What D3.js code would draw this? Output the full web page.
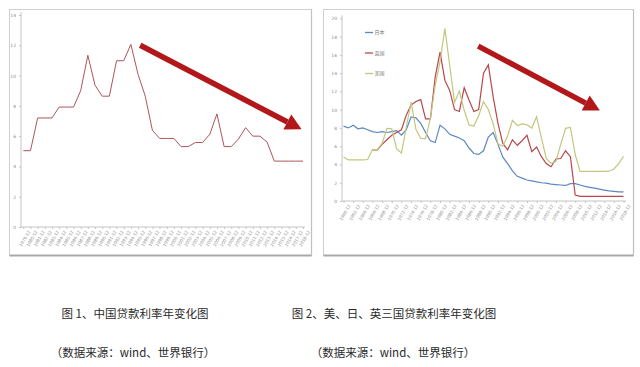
<!DOCTYPE html>
<html><head><meta charset="utf-8">
<script src="https://cdn.jsdelivr.net/npm/d3@7"></script>
<style>
html,body{margin:0;padding:0;background:#fff;}
svg{display:block;}
</style></head>
<body>
<svg id="c" width="640" height="367"></svg>
<script>
// ---------- DATA ----------
const chinaYears = d3.range(1979, 2019).map(y => y + "-12");
const chinaRate = [5.04,5.04,7.2,7.2,7.2,7.92,7.92,7.92,9.0,11.34,9.36,8.64,8.64,10.98,10.98,12.06,10.08,8.64,6.39,5.85,
                   5.85,5.85,5.31,5.31,5.58,5.58,6.12,7.47,5.31,5.31,5.81,6.56,6.0,6.0,5.6,4.35,4.35,4.35,4.35,4.35];
const chinaYTicks = [0,2,4,6,8,10,12,14];

const years2 = d3.range(1960, 2019);
const japanRate = [8.2,8.0,8.3,7.9,8.0,7.8,7.6,7.5,7.6,7.5,7.6,7.7,7.2,7.8,9.2,9.1,8.5,7.5,6.6,6.4,
                   8.3,7.9,7.3,7.1,6.9,6.6,5.8,5.2,5.1,5.5,7.0,7.5,6.2,4.8,4.1,3.3,2.7,2.5,2.3,2.2,
                   2.1,2.0,1.95,1.85,1.8,1.75,1.7,1.9,1.9,1.75,1.6,1.5,1.4,1.3,1.2,1.1,1.05,1.0,1.0];
const ukRate = [null,null,null,null,null,null,5.6,5.6,6.2,6.7,7.2,7.5,7.8,9.4,10.5,10.9,11.1,9.0,9.0,13.6,
                16.3,13.2,12.1,10.0,9.8,12.4,11.05,9.8,10.0,14.0,14.9,11.4,8.5,6.3,5.6,6.7,6.1,6.6,7.2,5.4,
                5.9,4.85,4.1,3.75,4.6,4.65,5.5,4.85,0.65,0.5,0.5,0.5,0.5,0.5,0.5,0.5,0.5,0.5,0.5];
const usRate = [4.82,4.5,4.5,4.5,4.5,4.54,5.63,5.63,6.31,7.96,7.91,5.72,5.25,8.03,10.81,7.86,6.84,6.83,9.06,12.67,
                15.27,18.87,14.86,10.79,12.04,9.93,8.33,8.21,9.32,10.87,10.01,8.46,6.25,6.0,7.14,8.83,8.27,8.44,8.35,7.99,
                9.23,6.91,4.67,4.12,4.34,6.19,7.96,8.05,5.09,3.25,3.25,3.25,3.25,3.25,3.25,3.26,3.51,4.1,4.9];
const chart2YTicks = [0,2,4,6,8,10,12,14,16,18,20];
const chart2XTicks = years2.filter(y => (y - 1960) % 2 === 0);
const legendNames = ["日本","英国","美国"];

const caption1 = "图 1、中国贷款利率年变化图";
const caption2 = "图 2、美、日、英三国贷款利率年变化图";
const source = "（数据来源：wind、世界银行）";

// arrows in data units: [x-index/year, value]
const arrow1 = {from:[16.3, 12.0], to:[38.8, 6.45]};
const arrow2 = {from:[1987.9, 16.95], to:[2013.1, 9.9]};

// ---------- DRAW ----------
const svg = d3.select("#c");
const FONT = "'Noto Sans CJK SC','Noto Sans',sans-serif";
const axisCol = "#c4c4c4", labCol = "#8a8a8a";

function frame(x, y, w, h){
  svg.append("rect").attr("x",x).attr("y",y).attr("width",w).attr("height",h)
    .attr("fill","#fff").attr("stroke","#cfcfcf").attr("stroke-width",1);
  svg.append("line").attr("x1",x).attr("x2",x+w).attr("y1",y+h).attr("y2",y+h)
    .attr("stroke","#a9a9a9").attr("stroke-width",2);
  svg.append("line").attr("x1",x+w).attr("x2",x+w).attr("y1",y).attr("y2",y+h)
    .attr("stroke","#c0c0c0").attr("stroke-width",1.2);
}
frame(9.5, 9.5, 302, 246);
frame(323.5, 9.5, 310, 246);

function arrow(g, x0, y0, x1, y1){
  const ang = Math.atan2(y1-y0, x1-x0);
  const L = 16, W = 8.5;
  const bx = x1 - L*Math.cos(ang), by = y1 - L*Math.sin(ang);
  g.append("line").attr("x1",x0).attr("y1",y0).attr("x2",bx).attr("y2",by)
    .attr("stroke","#b2171a").attr("stroke-width",5.5);
  const px = -Math.sin(ang), py = Math.cos(ang);
  g.append("polygon").attr("points",[[x1,y1],[bx+px*W,by+py*W],[bx-px*W,by-py*W]].map(p=>p.join(",")).join(" "))
    .attr("fill","#b2171a");
}

// ---- Chart 1 ----
{
  const x = d3.scalePoint().domain(chinaYears).range([23.3, 303]);
  const xi = d3.scaleLinear().domain([0, chinaYears.length-1]).range([23.3, 303]);
  const y = d3.scaleLinear().domain([0,14]).range([227, 15]);
  const g = svg.append("g");
  const ya = g.append("g").attr("transform","translate(21,0)")
    .call(d3.axisLeft(y).tickValues(chinaYTicks).tickSize(2).tickPadding(3));
  const xa = g.append("g").attr("transform","translate(0,227)")
    .call(d3.axisBottom(x).tickSize(2).tickPadding(2).tickSizeOuter(0));
  [ya, xa].forEach(a => {
    a.select(".domain").remove();
    a.selectAll(".tick line").attr("stroke",axisCol);
    a.selectAll("text").attr("fill",labCol).style("font-family","'DejaVu Sans',sans-serif");
  });
  g.append("line").attr("x1",21).attr("x2",21).attr("y1",y(14)-3).attr("y2",227).attr("stroke",axisCol);
  g.append("line").attr("x1",21).attr("x2",305).attr("y1",227).attr("y2",227).attr("stroke",axisCol);
  ya.selectAll("text").style("font-size","4.5px");
  xa.selectAll("text").style("font-size","4.2px").attr("text-anchor","end")
    .attr("transform","translate(2,2) rotate(-60)").attr("dy","0.35em").attr("dx","0");
  g.append("path").datum(chinaRate)
    .attr("d", d3.line().x((d,i)=>x(chinaYears[i])).y(d=>y(d)))
    .attr("fill","none").attr("stroke","#ad5559").attr("stroke-width",1);
  arrow(g, xi(arrow1.from[0]), y(arrow1.from[1]), xi(arrow1.to[0]), y(arrow1.to[1]));
}

// ---- Chart 2 ----
{
  const x = d3.scalePoint().domain(years2).range([343.5, 623.5]);
  const xl = d3.scaleLinear().domain([1960, 2018]).range([343.5, 623.5]);
  const y = d3.scaleLinear().domain([0,20]).range([201, 18.3]);
  const g = svg.append("g");
  const ya = g.append("g").attr("transform","translate(342,0)")
    .call(d3.axisLeft(y).tickValues(chart2YTicks).tickSize(2).tickPadding(3));
  const xa = g.append("g").attr("transform","translate(0,201)")
    .call(d3.axisBottom(x).tickValues(chart2XTicks).tickFormat(d => d + "-12").tickSize(2).tickPadding(2).tickSizeOuter(0));
  [ya, xa].forEach(a => {
    a.select(".domain").remove();
    a.selectAll(".tick line").attr("stroke",axisCol);
    a.selectAll("text").attr("fill",labCol).style("font-family","'DejaVu Sans',sans-serif");
  });
  g.append("line").attr("x1",342).attr("x2",342).attr("y1",y(20)-3).attr("y2",201).attr("stroke",axisCol);
  g.append("line").attr("x1",342).attr("x2",626).attr("y1",201).attr("y2",201).attr("stroke",axisCol);
  ya.selectAll("text").style("font-size","4.5px");
  xa.selectAll("text").style("font-size","4.2px").attr("text-anchor","end")
    .attr("transform","translate(2,2) rotate(-60)").attr("dy","0.35em").attr("dx","0");

  const series = [
    {name:legendNames[0], vals:japanRate, color:"#5b88c2"},
    {name:legendNames[1], vals:ukRate, color:"#b9474b"},
    {name:legendNames[2], vals:usRate, color:"#c3c67e"}
  ];
  const line = d3.line().defined(d => d != null).x((d,i)=>x(years2[i])).y(d=>y(d));
  series.forEach(s => {
    g.append("path").datum(s.vals).attr("d", line)
      .attr("fill","none").attr("stroke",s.color).attr("stroke-width",1.2);
  });
  // legend
  series.forEach((s,i) => {
    const ly = 32.5 + i*20.5;
    g.append("line").attr("x1",365).attr("x2",373).attr("y1",ly).attr("y2",ly)
      .attr("stroke",s.color).attr("stroke-width",1.3);
    g.append("text").attr("x",374.5).attr("y",ly).attr("dy","0.35em")
      .attr("fill","#777").style("font-size","5px").style("font-family",FONT).text(s.name);
  });
  arrow(g, xl(arrow2.from[0]), y(arrow2.from[1]), xl(arrow2.to[0]), y(arrow2.to[1]));
}

// ---- Captions ----
[[caption1, 135, 318],[caption2, 394, 318],[source, 133, 357],[source, 393, 357]].forEach(c => {
  svg.append("text").attr("x",c[1]).attr("y",c[2]).attr("text-anchor","middle")
    .attr("fill","#2a2a2a").style("font-size","11.5px").style("font-family",FONT).text(c[0]);
});
</script>
</body></html>
